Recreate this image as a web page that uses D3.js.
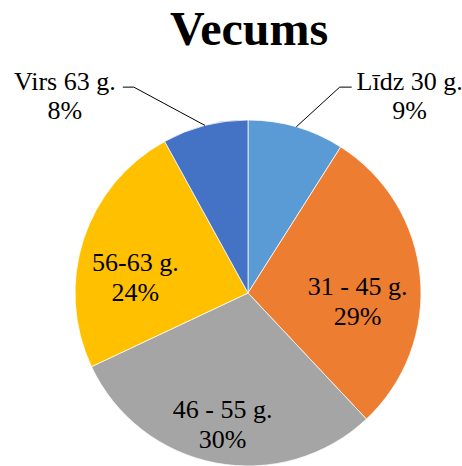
<!DOCTYPE html>
<html>
<head>
<meta charset="utf-8">
<script src="https://cdn.jsdelivr.net/npm/d3@7"></script>
<style>
  body { margin: 0; background: #fff; }
  text { font-family: "Liberation Serif", "Times New Roman", serif; fill: #000; }
</style>
</head>
<body>
<script>
var width = 462,
    height = 466,
    radius = 173,
    cx = 248,
    cy = 293;

var categories = ["Līdz 30 g.", "31 - 45 g.", "46 - 55 g.", "56-63 g.", "Virs 63 g."];
var values = [9, 29, 30, 24, 8];
var colors = ["#5B9BD5", "#ED7D31", "#A5A5A5", "#FFC000", "#4472C4"];
var outside = [true, false, false, false, true];

var data = categories.map(function(c, i) {
  return { name: c, value: values[i], color: colors[i], outside: outside[i] };
});

var svg = d3.select("body").append("svg")
    .attr("width", width)
    .attr("height", height);

svg.append("text")
    .attr("x", 249)
    .attr("y", 45)
    .attr("text-anchor", "middle")
    .style("font-size", "48px")
    .style("font-weight", "bold")
    .text("Vecums");

var pie = d3.pie()
    .sort(null)
    .value(function(d) { return d.value; });

var arc = d3.arc()
    .innerRadius(0)
    .outerRadius(radius);

var labelArc = d3.arc()
    .innerRadius(radius * 0.66)
    .outerRadius(radius * 0.66);

var g = svg.append("g")
    .attr("transform", "translate(" + cx + "," + cy + ")");

var arcs = pie(data);

g.selectAll("path")
    .data(arcs)
  .enter().append("path")
    .attr("d", arc)
    .style("fill", function(d) { return d.data.color; })
    .attr("stroke", "#fff")
    .style("stroke-width", "0.75px");

// labels inside the slices
var inner = g.selectAll(".inlabel")
    .data(arcs.filter(function(d) { return !d.data.outside; }))
  .enter().append("text")
    .attr("class", "inlabel")
    .attr("text-anchor", "middle")
    .style("font-size", "26px")
    .attr("transform", function(d) {
      var c = labelArc.centroid(d);
      return "translate(" + (c[0] - 4) + "," + (c[1] + 13) + ")";
    });

inner.append("tspan").attr("x", 0).attr("dy", 0).text(function(d) { return d.data.name; });
inner.append("tspan").attr("x", 0).attr("dy", 30).text(function(d) { return d.data.value + "%"; });

// labels outside with leader lines
function mid(d) { return (d.startAngle + d.endAngle) / 2; }

var out = arcs.filter(function(d) { return d.data.outside; });

out.forEach(function(d) {
  var a = mid(d),
      right = Math.sin(a) > 0,
      p0 = [Math.sin(a) * radius, -Math.cos(a) * radius],
      elbowY = -radius * 1.19,
      elbowX = right ? radius * 0.53 : -radius * 0.66,
      p2 = [elbowX + (right ? 12 : -11), elbowY];

  g.append("polyline")
      .attr("points", [p0, [elbowX, elbowY], p2].map(function(p) { return p.join(","); }).join(" "))
      .attr("fill", "none")
      .attr("stroke", "#000")
      .attr("stroke-width", 1);

  var bw = 106,
      tx = right ? p2[0] + 5 + bw / 2 : p2[0] - 5 - bw / 2;

  var t = g.append("text")
      .attr("text-anchor", "middle")
      .style("font-size", "26px")
      .attr("transform", "translate(" + tx + "," + (elbowY + 3) + ")");
  t.append("tspan").attr("x", 0).attr("dy", 0).text(d.data.name);
  t.append("tspan").attr("x", 0).attr("dy", 29).text(d.data.value + "%");
});
</script>
</body>
</html>
